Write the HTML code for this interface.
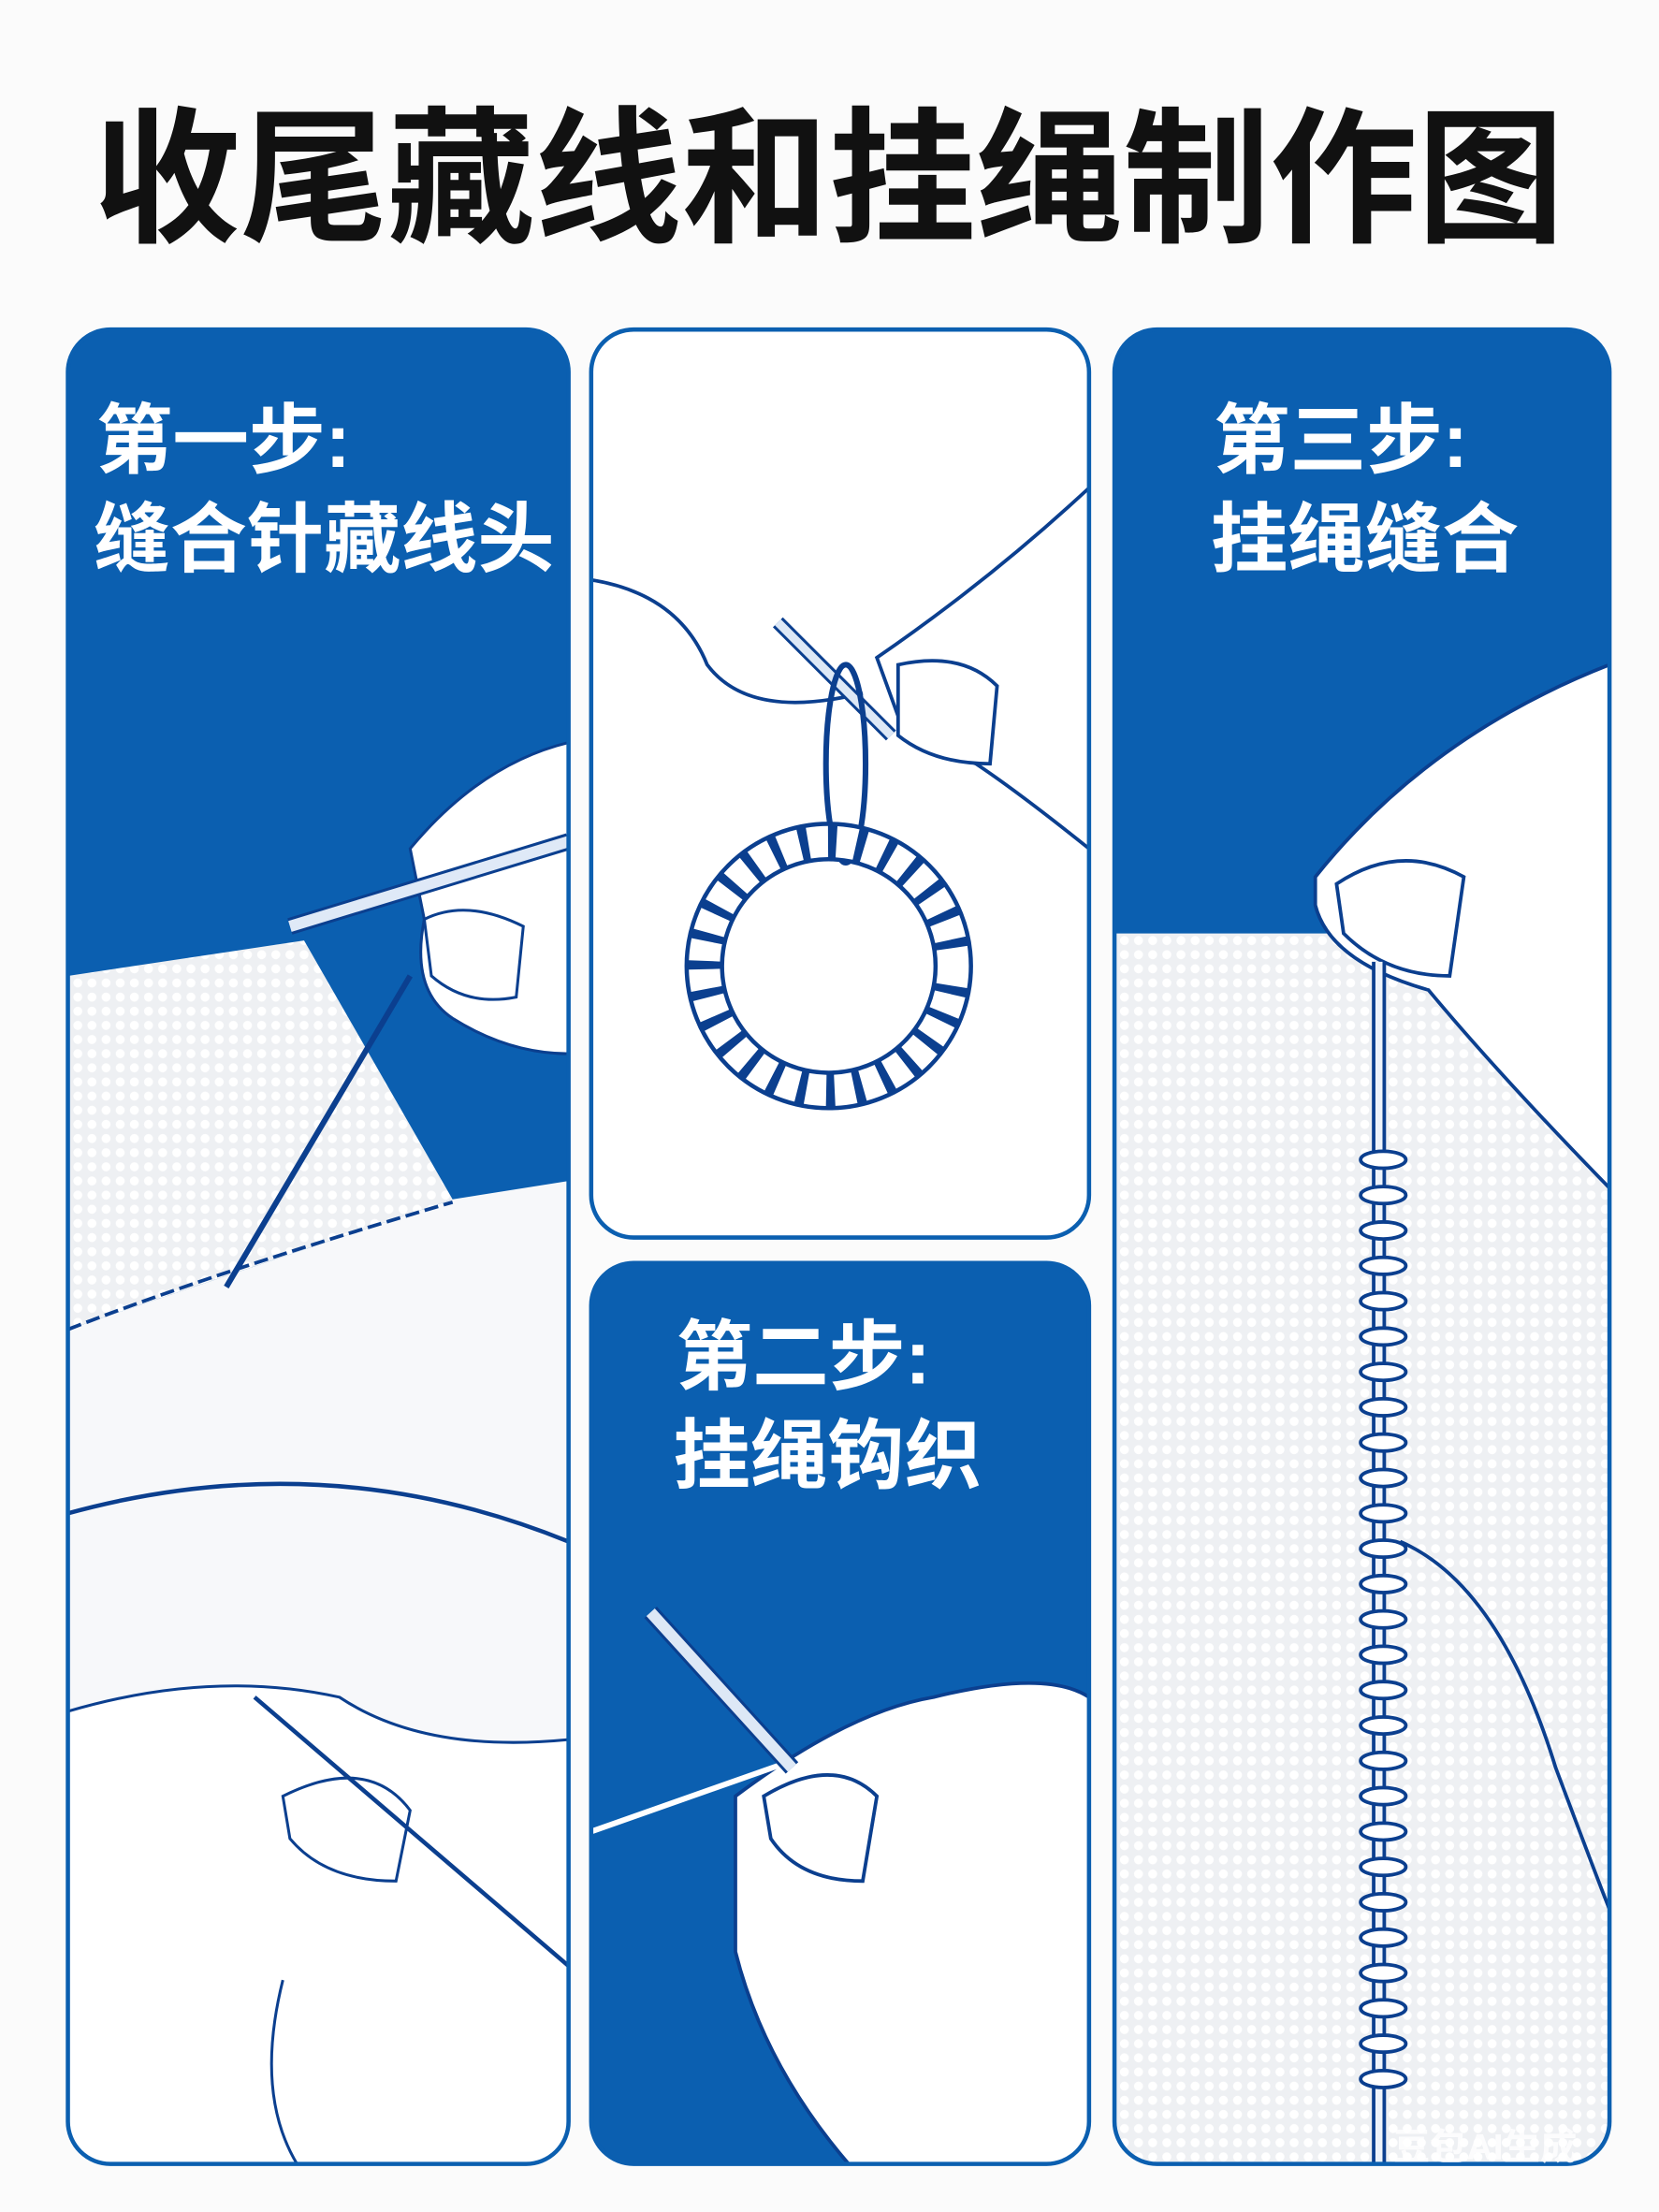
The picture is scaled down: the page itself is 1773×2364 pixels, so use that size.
<!DOCTYPE html>
<html><head><meta charset="utf-8"><style>
html,body{margin:0;padding:0;background:#fbfbfb;}
svg{display:block;}
text{font-family:"Liberation Sans","Noto Sans CJK SC",sans-serif;font-weight:bold;}
</style></head><body>
<svg width="1773" height="2364" viewBox="0 0 1173 1564" preserveAspectRatio="none" xmlns="http://www.w3.org/2000/svg">
<rect width="1173" height="1564" fill="#fbfbfb"/>
<text x="586" y="163" font-size="104" text-anchor="middle" fill="#111" textLength="1040" lengthAdjust="spacingAndGlyphs">收尾藏线和挂绳制作图</text>
<defs>
<clipPath id="c1"><rect x="48" y="233" width="354" height="1297" rx="30"/></clipPath>
<clipPath id="c2"><rect x="418" y="233" width="352" height="642" rx="30"/></clipPath>
<clipPath id="c3"><rect x="418" y="893" width="352" height="637" rx="30"/></clipPath>
<clipPath id="c4"><rect x="788" y="233" width="350" height="1297" rx="30"/></clipPath>
<pattern id="knit" width="10" height="10" patternUnits="userSpaceOnUse"><rect width="10" height="10" fill="#eef0f3"/><circle cx="5" cy="5" r="3.2" fill="#fff"/></pattern>
</defs>
<!-- Panel 1 -->
<g clip-path="url(#c1)">
<rect x="48" y="233" width="354" height="1297" fill="#0b5fb0"/>
<path d="M48,690 L215,665 L320,848 L48,940 Z" fill="url(#knit)"/>
<path d="M48,940 L320,848 L402,835 L402,1530 L48,1530 Z" fill="#f7f8fa"/>
<path d="M48,940 Q150,900 320,850" fill="none" stroke="#0b3f8f" stroke-width="2.5" stroke-dasharray="10 4"/>
<path d="M290,600 Q340,540 402,525 L402,745 Q360,745 320,720 Q290,700 300,650 Z" fill="#fff" stroke="#0b3f8f" stroke-width="2"/>
<path d="M300,650 Q330,635 370,655 L365,705 Q330,712 305,690 Z" fill="#fff" stroke="#0b3f8f" stroke-width="2"/>
<line x1="205" y1="655" x2="402" y2="595" stroke="#0b3f8f" stroke-width="12"/>
<line x1="205" y1="655" x2="402" y2="595" stroke="#dfe9f7" stroke-width="8"/>
<line x1="290" y1="690" x2="160" y2="910" stroke="#0b3f8f" stroke-width="4"/>
<path d="M48,1070 Q230,1020 402,1090" fill="none" stroke="#0b3f8f" stroke-width="3"/>
<path d="M48,1210 Q150,1180 240,1200 Q300,1240 402,1230 L402,1530 L48,1530 Z" fill="#fff" stroke="#0b3f8f" stroke-width="2"/>
<path d="M200,1270 Q260,1240 290,1280 L280,1330 Q230,1330 205,1300 Z" fill="#fff" stroke="#0b3f8f" stroke-width="2"/>
<line x1="180" y1="1200" x2="402" y2="1390" stroke="#0b3f8f" stroke-width="3"/>
<path d="M200,1400 Q180,1480 210,1530" fill="none" stroke="#0b3f8f" stroke-width="2"/>
</g>
<rect x="48" y="233" width="354" height="1297" rx="30" fill="none" stroke="#0b5fb0" stroke-width="3"/>
<text x="68" y="330" font-size="54" fill="#fff">第一步:</text>
<text x="66" y="400" font-size="54" fill="#fff" textLength="326" lengthAdjust="spacingAndGlyphs">缝合针藏线头</text>
<!-- Panel 2 -->
<g clip-path="url(#c2)">
<rect x="418" y="233" width="352" height="642" fill="#fff"/>
<path d="M620,465 Q700,410 770,345 L770,600 Q720,560 690,540 L640,520 Z" fill="#fff" stroke="#0b3f8f" stroke-width="2.5"/>
<path d="M635,470 Q680,460 705,485 L700,540 Q660,540 635,520 Z" fill="#fff" stroke="#0b3f8f" stroke-width="2.5"/>
<path d="M418,410 Q480,420 500,470 Q530,510 610,490" fill="none" stroke="#0b3f8f" stroke-width="2.5"/>
<line x1="550" y1="440" x2="630" y2="520" stroke="#0b3f8f" stroke-width="10"/>
<line x1="550" y1="440" x2="630" y2="520" stroke="#dde8f6" stroke-width="6"/>
<ellipse cx="598" cy="540" rx="14" ry="70" fill="none" stroke="#0b3f8f" stroke-width="4"/>
<circle cx="586" cy="683" r="88" fill="none" stroke="#0b3f8f" stroke-width="28"/>
<circle cx="586" cy="683" r="88" fill="none" stroke="#fff" stroke-width="22" stroke-dasharray="14 6"/>
</g>
<rect x="418" y="233" width="352" height="642" rx="30" fill="none" stroke="#0b5fb0" stroke-width="3"/>
<!-- Panel 3 -->
<g clip-path="url(#c3)">
<rect x="418" y="893" width="352" height="637" fill="#0b5fb0"/>
<path d="M520,1270 Q600,1210 660,1200 Q740,1180 770,1200 L770,1530 L600,1530 Q540,1460 520,1380 Z" fill="#fff" stroke="#0b3f8f" stroke-width="2.5"/>
<path d="M540,1270 Q590,1240 620,1270 L610,1330 Q565,1330 545,1300 Z" fill="#fff" stroke="#0b3f8f" stroke-width="2.5"/>
<line x1="418" y1="1295" x2="560" y2="1245" stroke="#fff" stroke-width="4"/>
<line x1="460" y1="1140" x2="560" y2="1250" stroke="#0b3f8f" stroke-width="12"/>
<line x1="460" y1="1140" x2="560" y2="1250" stroke="#dde8f6" stroke-width="8"/>
</g>
<rect x="418" y="893" width="352" height="637" rx="30" fill="none" stroke="#0b5fb0" stroke-width="3"/>
<text x="478" y="978" font-size="54" fill="#fff">第二步:</text>
<text x="476" y="1048" font-size="54" fill="#fff" textLength="218" lengthAdjust="spacingAndGlyphs">挂绳钩织</text>
<!-- Panel 4 -->
<g clip-path="url(#c4)">
<rect x="788" y="233" width="350" height="1297" fill="#0b5fb0"/>
<rect x="788" y="660" width="350" height="870" fill="url(#knit)"/>
<path d="M930,620 Q1010,520 1138,470 L1138,840 Q1060,760 1010,700 Q940,680 930,640 Z" fill="#fff" stroke="#0b3f8f" stroke-width="2.5"/>
<path d="M945,625 Q990,595 1035,620 L1025,690 Q980,690 950,660 Z" fill="#fff" stroke="#0b3f8f" stroke-width="2.5"/>
<line x1="975" y1="680" x2="975" y2="1530" stroke="#0b3f8f" stroke-width="10"/>
<line x1="975" y1="680" x2="975" y2="1530" stroke="#eef3fa" stroke-width="5"/>
<g fill="#fff" stroke="#0b3f8f" stroke-width="2.5">
<ellipse cx="978" cy="820" rx="16" ry="6"/><ellipse cx="978" cy="845" rx="16" ry="6"/><ellipse cx="978" cy="870" rx="16" ry="6"/><ellipse cx="978" cy="895" rx="16" ry="6"/><ellipse cx="978" cy="920" rx="16" ry="6"/><ellipse cx="978" cy="945" rx="16" ry="6"/><ellipse cx="978" cy="970" rx="16" ry="6"/><ellipse cx="978" cy="995" rx="16" ry="6"/><ellipse cx="978" cy="1020" rx="16" ry="6"/><ellipse cx="978" cy="1045" rx="16" ry="6"/><ellipse cx="978" cy="1070" rx="16" ry="6"/><ellipse cx="978" cy="1095" rx="16" ry="6"/><ellipse cx="978" cy="1120" rx="16" ry="6"/><ellipse cx="978" cy="1145" rx="16" ry="6"/><ellipse cx="978" cy="1170" rx="16" ry="6"/><ellipse cx="978" cy="1195" rx="16" ry="6"/><ellipse cx="978" cy="1220" rx="16" ry="6"/><ellipse cx="978" cy="1245" rx="16" ry="6"/><ellipse cx="978" cy="1270" rx="16" ry="6"/><ellipse cx="978" cy="1295" rx="16" ry="6"/><ellipse cx="978" cy="1320" rx="16" ry="6"/><ellipse cx="978" cy="1345" rx="16" ry="6"/><ellipse cx="978" cy="1370" rx="16" ry="6"/><ellipse cx="978" cy="1395" rx="16" ry="6"/><ellipse cx="978" cy="1420" rx="16" ry="6"/><ellipse cx="978" cy="1445" rx="16" ry="6"/><ellipse cx="978" cy="1470" rx="16" ry="6"/>
</g>
<path d="M990,1090 Q1060,1120 1100,1250 Q1130,1330 1138,1350" fill="none" stroke="#0b3f8f" stroke-width="2.5"/>
</g>
<rect x="788" y="233" width="350" height="1297" rx="30" fill="none" stroke="#0b5fb0" stroke-width="3"/>
<text x="858" y="330" font-size="54" fill="#fff">第三步:</text>
<text x="856" y="400" font-size="54" fill="#fff" textLength="218" lengthAdjust="spacingAndGlyphs">挂绳缝合</text>
<text x="985" y="1527" font-size="26" fill="#fff" opacity="0.85">豆包AI生成</text>
</svg>
</body></html>
